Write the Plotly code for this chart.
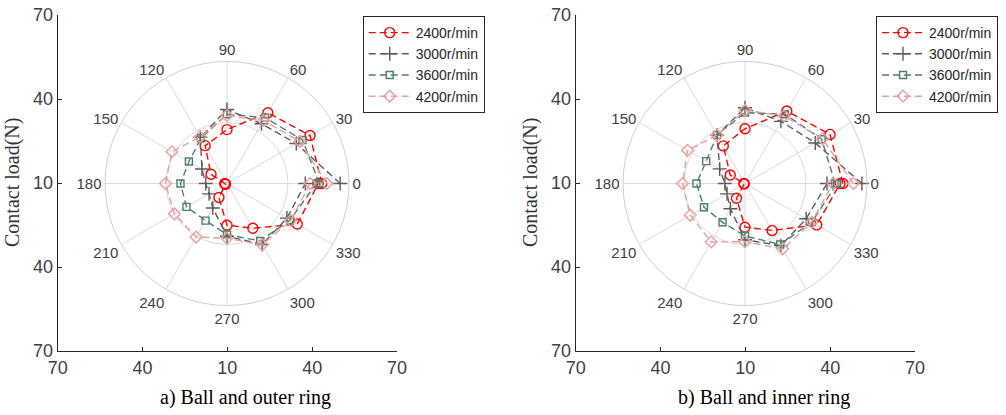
import plotly.graph_objects as go

# ---------------- data ----------------
theta_deg = [0, 30, 60, 90, 120, 150, 180, 210, 240, 270, 300, 330, 360]
speeds = ["2400r/min", "3000r/min", "3600r/min", "4200r/min"]

# a) Ball and outer ring  (contact load, N)
outer_2400 = [43.4, 43.8, 38.8, 29.0, 25.4, 16.5, 10.8, 10.6, 15.7, 24.7, 28.2, 38.6, 42.2]
outer_3000 = [49.9, 38.2, 34.3, 36.1, 28.8, 20.2, 17.5, 17.3, 20.0, 28.6, 34.8, 34.4, 37.6]
outer_3600 = [42.6, 40.7, 36.8, 34.4, 28.4, 25.5, 26.4, 26.5, 25.1, 28.0, 33.4, 35.7, 41.5]
outer_4200 = [45.2, 39.6, 35.7, 34.0, 29.0, 32.4, 31.7, 31.4, 31.8, 29.3, 34.9, 36.0, 39.3]

# b) Ball and inner ring  (contact load, N)
inner_2400 = [44.5, 44.6, 39.5, 29.3, 25.3, 16.0, 10.4, 10.3, 16.0, 25.4, 29.1, 39.2, 43.5]
inner_3000 = [51.2, 38.6, 35.3, 36.7, 29.7, 20.3, 17.1, 17.3, 20.3, 29.8, 35.3, 34.9, 38.9]
inner_3600 = [41.8, 41.2, 38.2, 35.0, 29.7, 25.8, 27.1, 26.7, 25.8, 28.5, 34.8, 37.2, 42.5]
inner_4200 = [48.2, 41.5, 37.5, 35.8, 29.7, 33.4, 32.0, 32.3, 33.8, 30.5, 36.6, 37.2, 41.0]

# frame axis ticks (offset scale: center of polar plot = 10 N)
frame_tick_vals = [-60, -30, 0, 30, 60]
frame_tick_text = ["70", "40", "10", "40", "70"]
angle_ticks = [0, 30, 60, 90, 120, 150, 180, 210, 240, 270, 300, 330]
r_center = 10
r_ring = 31.5
r_outer = 53

panel_titles = ["a) Ball and outer ring", "b) Ball and inner ring"]
y_title = "Contact load(N)"

# ---------------- style ----------------
colors = ["#FF0000", "#5C5C5C", "#4C7F6A", "#EB9E9E"]
symbols = ["circle-open", "cross-thin-open", "square-open", "diamond-open"]
msizes = [10, 10, 7, 9]
DASH = "7px,4px"
SANS = "Liberation Sans, Arial, sans-serif"
SERIF = "Liberation Serif, Times New Roman, serif"
TXT = "#404040"
AX = "#262626"

W, H = 1006, 415
fig = go.Figure()

panels = [
    dict(data=[outer_2400, outer_3000, outer_3600, outer_4200], polar="polar",
         xa="x", ya="y", legend="legend",
         frame_x=(57.7, 397.0), center_x=227.0, title_x=245.5, ytitle_x=12.5,
         leg_x=362.7),
    dict(data=[inner_2400, inner_3000, inner_3600, inner_4200], polar="polar2",
         xa="x2", ya="y2", legend="legend2",
         frame_x=(575.7, 915.0), center_x=745.0, title_x=764.0, ytitle_x=530.5,
         leg_x=876.0),
]

frame_top, frame_bot = 15.0, 351.0
center_y = 183.5
R_px = 122.0

for p_i, p in enumerate(panels):
    # empty trace to materialise the frame axes
    fig.add_trace(go.Scatter(x=[], y=[], xaxis=p["xa"], yaxis=p["ya"],
                             showlegend=False, hoverinfo="skip"))
    for s_i, series in enumerate(p["data"]):
        fig.add_trace(go.Scatterpolar(
            r=series, theta=theta_deg, subplot=p["polar"],
            mode="lines+markers", name=speeds[s_i],
            line=dict(color=colors[s_i], width=1.4, dash=DASH),
            marker=dict(symbol=symbols[s_i], size=msizes[s_i], color=colors[s_i],
                        line=dict(color=colors[s_i], width=1.4)),
            legend=p["legend"],
        ))

    x0, x1 = p["frame_x"]
    axis_common = dict(showline=True, linecolor=AX, linewidth=1, mirror=False,
                       ticks="inside", ticklen=4, tickcolor=AX, showgrid=False,
                       zeroline=False, range=[-60, 60], tickvals=frame_tick_vals,
                       ticktext=frame_tick_text,
                       tickfont=dict(family=SANS, size=18, color=TXT), fixedrange=True)
    xkey = "xaxis" if p_i == 0 else "xaxis2"
    ykey = "yaxis" if p_i == 0 else "yaxis2"
    fig.update_layout(**{
        xkey: dict(axis_common, domain=[x0 / W, x1 / W], anchor=p["ya"]),
        ykey: dict(axis_common, domain=[1 - frame_bot / H, 1 - frame_top / H], anchor=p["xa"]),
    })

    cx = p["center_x"]
    fig.update_layout(**{p["polar"]: dict(
        domain=dict(x=[(cx - R_px) / W, (cx + R_px) / W],
                    y=[1 - (center_y + R_px) / H, 1 - (center_y - R_px) / H]),
        bgcolor="rgba(0,0,0,0)",
        radialaxis=dict(range=[r_center, r_outer], tickvals=[r_ring, r_outer],
                        showticklabels=False, ticks="", showline=False,
                        gridcolor="#DADADA", gridwidth=1),
        angularaxis=dict(rotation=0, direction="counterclockwise",
                         tickvals=angle_ticks, ticktext=[str(a) for a in angle_ticks],
                         ticks="", showline=True, linecolor="#CFCFCF", linewidth=1,
                         gridcolor="#DADADA", gridwidth=1,
                         tickfont=dict(family=SANS, size=15, color=TXT)),
    )})

    fig.update_layout(**{p["legend"]: dict(
        x=p["leg_x"] / W, y=1 - 16 / H, xanchor="left", yanchor="top",
        bgcolor="white", bordercolor=AX, borderwidth=1, itemwidth=42,
        font=dict(family=SANS, size=14, color=AX), tracegroupgap=0,
        itemclick=False, itemdoubleclick=False,
    )})

    fig.add_annotation(text=panel_titles[p_i], x=p["title_x"] / W, y=1 - 397 / H,
                       xref="paper", yref="paper", showarrow=False,
                       xanchor="center", yanchor="middle",
                       font=dict(family=SERIF, size=20, color="#000000"))
    fig.add_annotation(text=y_title, x=p["ytitle_x"] / W, y=1 - 182.5 / H,
                       xref="paper", yref="paper", showarrow=False, textangle=-90,
                       xanchor="center", yanchor="middle",
                       font=dict(family=SERIF, size=20, color="#333333"))

fig.update_layout(width=W, height=H,
                  margin=dict(l=0, r=0, t=0, b=0, pad=0, autoexpand=False),
                  paper_bgcolor="white", plot_bgcolor="white", showlegend=True,
                  font=dict(family=SANS))

fig.write_html("out.html", config=dict(displayModeBar=False))
